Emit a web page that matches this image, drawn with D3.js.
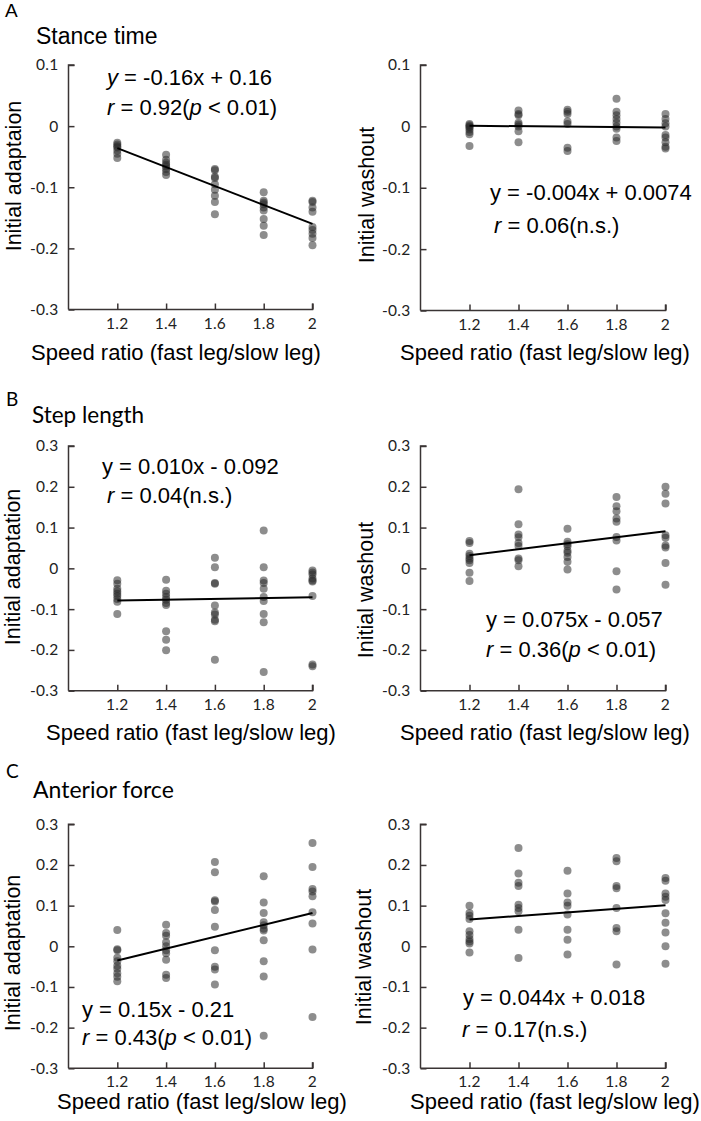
<!DOCTYPE html>
<html><head><meta charset="utf-8">
<script src="https://cdn.jsdelivr.net/npm/d3@7"></script>
<style>
html,body{margin:0;padding:0;background:#fff;}
svg{display:block;}
</style></head>
<body>
<svg id="chart" width="701" height="1121"></svg>
<script>
// ---------- data ----------
const speedRatios = [1.2, 1.4, 1.6, 1.8, 2];
const xTickLabels = ["1.2", "1.4", "1.6", "1.8", "2"];
const yTicksA = [0.1, 0, -0.1, -0.2, -0.3];
const yTicksBC = [0.3, 0.2, 0.1, 0, -0.1, -0.2, -0.3];

// values per speed ratio (1.2, 1.4, 1.6, 1.8, 2)
const stanceAdapt = [
  [-0.027, -0.03, -0.033, -0.035, -0.04, -0.045, -0.052],
  [-0.047, -0.055, -0.06, -0.063, -0.066, -0.07, -0.075, -0.08],
  [-0.07, -0.072, -0.083, -0.085, -0.095, -0.104, -0.114, -0.124, -0.144],
  [-0.108, -0.122, -0.125, -0.128, -0.133, -0.138, -0.152, -0.163, -0.178],
  [-0.122, -0.124, -0.133, -0.14, -0.165, -0.17, -0.176, -0.183, -0.195]
];
const stanceWash = [
  [0.004, 0.002, 0, -0.002, -0.005, -0.009, -0.013, -0.032],
  [0.026, 0.02, 0.018, 0.006, 0.003, 0, -0.008, -0.026],
  [0.027, 0.024, 0.02, 0.008, 0.004, -0.035, -0.04],
  [0.045, 0.024, 0.018, 0.012, 0.006, 0, -0.004, -0.018, -0.024],
  [0.02, 0.012, 0.005, 0, -0.014, -0.018, -0.026, -0.033, -0.036]
];
const stepAdapt = [
  [-0.029, -0.038, -0.05, -0.056, -0.062, -0.068, -0.075, -0.082, -0.112],
  [-0.028, -0.055, -0.062, -0.07, -0.077, -0.085, -0.09, -0.154, -0.175, -0.201],
  [0.026, 0.003, -0.036, -0.038, -0.091, -0.108, -0.113, -0.126, -0.13, -0.224],
  [0.093, 0.003, -0.03, -0.036, -0.05, -0.07, -0.08, -0.112, -0.132, -0.254],
  [-0.005, -0.01, -0.015, -0.025, -0.03, -0.032, -0.068, -0.236, -0.24]
];
const stepWash = [
  [0.067, 0.062, 0.036, 0.03, 0.024, 0.02, 0.013, -0.011, -0.031],
  [0.194, 0.108, 0.083, 0.076, 0.062, 0.055, 0.024, 0.02, 0.005],
  [0.097, 0.065, 0.059, 0.054, 0.043, 0.038, 0.028, 0.016, -0.003],
  [0.175, 0.152, 0.14, 0.122, 0.114, 0.077, 0.068, -0.007, -0.052],
  [0.2, 0.183, 0.159, 0.081, 0.075, 0.056, 0.051, 0.013, -0.04]
];
const forceAdapt = [
  [0.04, -0.007, -0.01, -0.028, -0.037, -0.048, -0.055, -0.066, -0.075, -0.086],
  [0.053, 0.033, 0.026, 0.01, 0, -0.01, -0.017, -0.033, -0.07, -0.078],
  [0.207, 0.182, 0.113, 0.11, 0.089, 0.048, -0.01, -0.05, -0.057, -0.094],
  [0.172, 0.108, 0.082, 0.059, 0.052, 0.043, 0.039, 0.015, -0.037, -0.074, -0.22],
  [0.254, 0.195, 0.141, 0.135, 0.123, 0.084, 0.056, -0.008, -0.174]
];
const forceWash = [
  [0.1, 0.082, 0.075, 0.067, 0.037, 0.028, 0.018, 0.012, 0.007, -0.015],
  [0.242, 0.179, 0.156, 0.148, 0.102, 0.094, 0.086, 0.041, -0.029],
  [0.186, 0.13, 0.108, 0.1, 0.078, 0.041, 0.016, -0.02],
  [0.217, 0.209, 0.148, 0.143, 0.094, 0.045, 0.037, -0.045],
  [0.168, 0.161, 0.13, 0.122, 0.114, 0.081, 0.058, 0.034, 0, -0.043]
];

// regression line end values at x = 1.2 and x = 2
const fitX = [1.2, 2];
const stanceAdaptFit = [-0.036, -0.160];
const stanceWashFit = [0.001, -0.002];
const stepAdaptFit = [-0.079, -0.071];
const stepWashFit = [0.032, 0.091];
const forceAdaptFit = [-0.035, 0.082];
const forceWashFit = [0.066, 0.101];

// ---------- layout ----------
const svg = d3.select("#chart");
const AXIS_COLOR = "#3a3434";
const SANS = "'Liberation Sans', Arial, sans-serif";
const TICKFONT = "Lato, 'Open Sans', sans-serif";

const leftRange = [68.5, 312.5];
const rightRange = [420.5, 665.5];

const panels = [
  {vals: stanceAdapt, fit: stanceAdaptFit, yTicks: yTicksA, yDom: [-0.3, 0.1], xr: leftRange, yr: [309.5, 65],
   ylab: "Initial adaptaion", ylx: 21, yly: 176, xlx: 176, xly: 360,
   eq: [{x: 107, y: 85, parts: [["y", 1], [" = -0.16x + 0.16", 0]]},
        {x: 107, y: 115, parts: [["r", 1], [" = 0.92(", 0], ["p", 1], [" < 0.01)", 0]]}]},
  {vals: stanceWash, fit: stanceWashFit, yTicks: yTicksA, yDom: [-0.3, 0.1], xr: rightRange, yr: [310.5, 65],
   ylab: "Initial washout", ylx: 374, yly: 195, xlx: 545, xly: 360,
   eq: [{x: 490, y: 200, parts: [["y = -0.004x + 0.0074", 0]]},
        {x: 494, y: 233, parts: [["r", 1], [" = 0.06(n.s.)", 0]]}]},
  {vals: stepAdapt, fit: stepAdaptFit, yTicks: yTicksBC, yDom: [-0.3, 0.3], xr: leftRange, yr: [690.7, 446],
   ylab: "Initial adaptation", ylx: 20, yly: 567, xlx: 191, xly: 740,
   eq: [{x: 102, y: 474, parts: [["y = 0.010x - 0.092", 0]]},
        {x: 107, y: 503, parts: [["r", 1], [" = 0.04(n.s.)", 0]]}]},
  {vals: stepWash, fit: stepWashFit, yTicks: yTicksBC, yDom: [-0.3, 0.3], xr: rightRange, yr: [690.7, 446],
   ylab: "Initial washout", ylx: 373, yly: 590, xlx: 545, xly: 740,
   eq: [{x: 486, y: 627, parts: [["y = 0.075x - 0.057", 0]]},
        {x: 486, y: 657, parts: [["r", 1], [" = 0.36(", 0], ["p", 1], [" < 0.01)", 0]]}]},
  {vals: forceAdapt, fit: forceAdaptFit, yTicks: yTicksBC, yDom: [-0.3, 0.3], xr: leftRange, yr: [1068.3, 824.3],
   ylab: "Initial adaptation", ylx: 20, yly: 953, xlx: 202, xly: 1109,
   eq: [{x: 82, y: 1017, parts: [["y = 0.15x - 0.21", 0]]},
        {x: 82, y: 1045, parts: [["r", 1], [" = 0.43(", 0], ["p", 1], [" < 0.01)", 0]]}]},
  {vals: forceWash, fit: forceWashFit, yTicks: yTicksBC, yDom: [-0.3, 0.3], xr: rightRange, yr: [1068.3, 824.3],
   ylab: "Initial washout", ylx: 371, yly: 957, xlx: 555, xly: 1109,
   eq: [{x: 463, y: 1005, parts: [["y = 0.044x + 0.018", 0]]},
        {x: 462, y: 1037, parts: [["r", 1], [" = 0.17(n.s.)", 0]]}]}
];

panels.forEach(p => {
  const x = d3.scaleLinear().domain([1, 2]).range(p.xr);
  const y = d3.scaleLinear().domain(p.yDom).range(p.yr);
  const g = svg.append("g");

  // y axis (ticks pointing inward)
  const yAxis = d3.axisRight(y).tickValues(p.yTicks).tickSize(6).tickFormat("");
  const ya = g.append("g").attr("transform", `translate(${p.xr[0]},0)`).call(yAxis);
  ya.select(".domain").attr("d", `M6,${p.yr[1]}H0V${p.yr[0]}`);
  ya.selectAll("path,line").attr("stroke", AXIS_COLOR).attr("stroke-width", 1.5);
  g.selectAll(".ylabel").data(p.yTicks).enter().append("text")
    .attr("x", p.xr[0] - 10).attr("y", d => y(d)).attr("dy", "0.35em")
    .attr("text-anchor", "end").attr("font-family", TICKFONT).attr("font-size", 15.5)
    .attr("letter-spacing", "0.3px").attr("fill", "#222")
    .text(d => String(+d.toFixed(1)));

  // x axis (ticks pointing inward)
  const xAxis = d3.axisTop(x).tickValues(speedRatios).tickSize(6).tickFormat("");
  const xa = g.append("g").attr("transform", `translate(0,${p.yr[0]})`).call(xAxis);
  xa.select(".domain").attr("d", `M${p.xr[0]},0H${p.xr[1]}V-6`);
  xa.selectAll("path,line").attr("stroke", AXIS_COLOR).attr("stroke-width", 1.5);
  g.selectAll(".xlabel").data(speedRatios).enter().append("text")
    .attr("x", d => x(d)).attr("y", p.yr[0] + 19)
    .attr("text-anchor", "middle").attr("font-family", TICKFONT).attr("font-size", 15.5)
    .attr("letter-spacing", "0.3px").attr("fill", "#222")
    .text((d, i) => xTickLabels[i]);

  // points
  const pts = [];
  p.vals.forEach((arr, i) => arr.forEach(v => pts.push({sr: speedRatios[i], v})));
  g.append("g").selectAll("circle").data(pts).enter().append("circle")
    .attr("cx", d => x(d.sr)).attr("cy", d => y(d.v)).attr("r", 4)
    .attr("fill", "#282828").attr("fill-opacity", 0.53);

  // regression line
  g.append("path")
    .attr("d", d3.line().x(d => x(d[0])).y(d => y(d[1]))(fitX.map((fx, i) => [fx, p.fit[i]])))
    .attr("stroke", "#000").attr("stroke-width", 2).attr("fill", "none");

  // axis titles
  g.append("text").attr("transform", `translate(${p.ylx},${p.yly}) rotate(-90)`)
    .attr("text-anchor", "middle").attr("font-family", SANS).attr("font-size", 21.5)
    .attr("fill", "#000").text(p.ylab);
  g.append("text").attr("x", p.xlx).attr("y", p.xly)
    .attr("text-anchor", "middle").attr("font-family", SANS).attr("font-size", 22)
    .attr("fill", "#000").text("Speed ratio (fast leg/slow leg)");

  // equations
  p.eq.forEach(e => {
    const t = g.append("text").attr("x", e.x).attr("y", e.y)
      .attr("font-family", SANS).attr("font-size", 22).attr("fill", "#000")
      .attr("xml:space", "preserve").style("white-space", "pre");
    e.parts.forEach(([s, it]) => t.append("tspan").attr("font-style", it ? "italic" : "normal").text(s));
  });
});

// panel letters and titles
svg.append("text").attr("x", 5).attr("y", 17).attr("font-family", SANS).attr("font-size", 19).text("A");
svg.append("text").attr("x", 36).attr("y", 44).attr("font-family", SANS).attr("font-size", 23).text("Stance time");
svg.append("text").attr("x", 6).attr("y", 406).attr("font-family", TICKFONT).attr("font-size", 19).text("B");
svg.append("text").attr("x", 32).attr("y", 423).attr("font-family", TICKFONT).attr("font-size", 22.5).text("Step length");
svg.append("text").attr("x", 6).attr("y", 778).attr("font-family", TICKFONT).attr("font-size", 19).text("C");
svg.append("text").attr("x", 33).attr("y", 798).attr("font-family", TICKFONT).attr("font-size", 23).text("Anterior force");
</script>
</body></html>
